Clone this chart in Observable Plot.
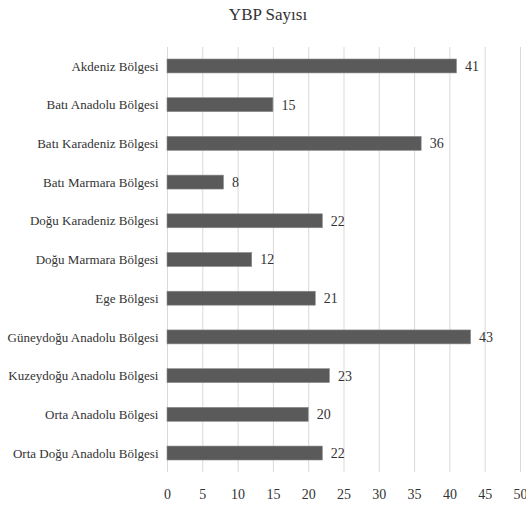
<!DOCTYPE html>
<html>
<head>
<meta charset="utf-8">
<script src="https://cdn.jsdelivr.net/npm/d3@7"></script>
<script src="https://cdn.jsdelivr.net/npm/@observablehq/plot@0.6"></script>
<style>
  body { margin: 0; background: #fff; }
</style>
</head>
<body>
<div id="title" style="width:526px;height:32px;text-align:center;font-family:'Liberation Serif', 'Times New Roman', serif;font-size:17px;line-height:30px;color:#333;padding-left:10px;box-sizing:border-box;">YBP Sayısı</div>
<div id="chart"></div>
<script>
const regions = [
  "Akdeniz Bölgesi",
  "Batı Anadolu Bölgesi",
  "Batı Karadeniz Bölgesi",
  "Batı Marmara Bölgesi",
  "Doğu Karadeniz Bölgesi",
  "Doğu Marmara Bölgesi",
  "Ege Bölgesi",
  "Güneydoğu Anadolu Bölgesi",
  "Kuzeydoğu Anadolu Bölgesi",
  "Orta Anadolu Bölgesi",
  "Orta Doğu Anadolu Bölgesi"
];
const counts = [41, 15, 36, 8, 22, 12, 21, 43, 23, 20, 22];
const xTicks = [0, 5, 10, 15, 20, 25, 30, 35, 40, 45, 50];

const data = regions.map((r, i) => ({region: r, value: counts[i]}));
const SERIF = "'Liberation Serif', 'Times New Roman', serif";

const chart = Plot.plot({
  width: 526,
  height: 474,
  marginTop: 15,
  marginBottom: 34,
  marginLeft: 167,
  marginRight: 6,
  style: {fontFamily: SERIF, fontSize: "14px", color: "#333", background: "#fff"},
  x: {domain: [0, 50], ticks: xTicks, label: null},
  y: {domain: regions, paddingInner: 0.64, paddingOuter: 0.31, round: false, label: null},
  marks: [
    Plot.ruleX(xTicks, {stroke: "#d9d9d9", strokeWidth: 1}),
    Plot.barX(data, {x: "value", y: "region", fill: "#5a5a5a", stroke: "#8a8a8a", strokeWidth: 0.6}),
    Plot.text(data, {x: "value", y: "region", text: d => String(d.value), dx: 8, textAnchor: "start", fill: "#333", fontSize: 14}),
    Plot.axisX({ticks: xTicks, tickSize: 0, tickPadding: 17, fontSize: 14, label: null}),
    Plot.axisY({tickSize: 0, tickPadding: 9, fontSize: 13, label: null})
  ]
});
document.getElementById("chart").appendChild(chart);
</script>
</body>
</html>
